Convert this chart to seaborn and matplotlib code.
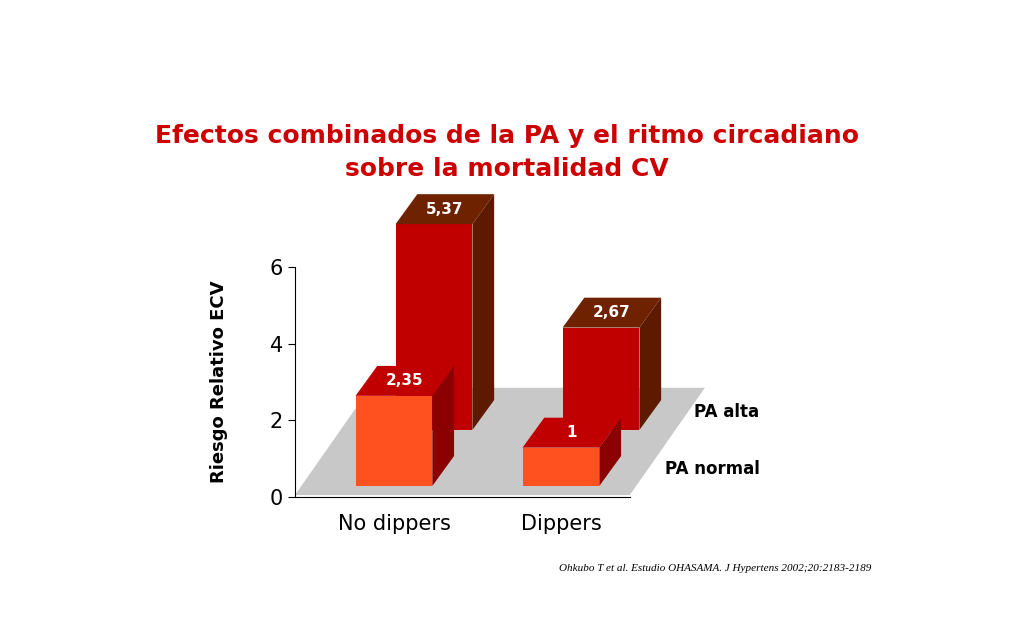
import matplotlib
matplotlib.use("Agg")
import matplotlib.pyplot as plt
import seaborn as sns
import pandas as pd
from matplotlib.patches import Polygon

categories = ["No dippers", "Dippers"]
pa_normal = [2.35, 1.0]
pa_alta = [5.37, 2.67]
labels_normal = ["2,35", "1"]
labels_alta = ["5,37", "2,67"]

# pseudo-3D geometry in data units
FRONT_BASE, BACK_BASE = 0.29, 1.75
BACK_DX = 0.24
DEP_X, DEP_Y = 0.13, 0.78
XL, XR = -0.593, 1.412

fig = plt.figure(figsize=(10.24, 6.4), dpi=100)
ax = fig.add_axes([0.288, 0.2234, 0.327, 0.3594])
ax.set_xlim(XL, XR)
ax.set_ylim(0, 6)

# floor
floor = Polygon([(XL, 0.05), (XR, 0.05), (XR + 0.45, 2.85), (XL + 0.45, 2.85)],
                closed=True, facecolor="#C8C8C8", edgecolor="none", zorder=0, clip_on=False)
ax.add_patch(floor)


def draw_row(values, texts, base, dx, front_c, top_c, side_c, z):
    df = pd.DataFrame({"cat": categories, "val": values})
    n0 = len(ax.patches)
    sns.barplot(data=df, x="cat", y="val", ax=ax, color=front_c, width=0.46,
                saturation=1, zorder=z)
    for p, t in zip(ax.patches[n0:], texts):
        p.set_x(p.get_x() + dx)
        p.set_y(base)
        p.set_clip_on(False)
        p.set_edgecolor("none")
        x0, w, h = p.get_x(), p.get_width(), p.get_height()
        top = base + h
        ax.add_patch(Polygon([(x0, top), (x0 + w, top), (x0 + w + DEP_X, top + DEP_Y),
                              (x0 + DEP_X, top + DEP_Y)], facecolor=top_c, zorder=z, clip_on=False))
        ax.add_patch(Polygon([(x0 + w, base), (x0 + w + DEP_X, base + DEP_Y),
                              (x0 + w + DEP_X, top + DEP_Y), (x0 + w, top)],
                             facecolor=side_c, zorder=z, clip_on=False))
        ax.text(x0 + w / 2 + DEP_X / 2, top + DEP_Y / 2, t, color="white",
                fontsize=11, fontweight="bold", ha="center", va="center", zorder=z + 1)


draw_row(pa_alta, labels_alta, BACK_BASE, BACK_DX, "#C00000", "#6E2200", "#5E1A00", 2)
draw_row(pa_normal, labels_normal, FRONT_BASE, 0, "#FF5020", "#C00000", "#8B0000", 4)

sns.despine(ax=ax)
ax.set_xlim(XL, XR)
ax.set_yticks([0, 2, 4, 6])
ax.tick_params(axis="y", labelsize=15, direction="out", length=5)
ax.tick_params(axis="x", labelsize=15, length=0, pad=12)
ax.set_xlabel("")
ax.set_ylabel("Riesgo Relativo ECV", fontsize=13, fontweight="bold", labelpad=30)
ax.set_facecolor("none")

fig.text(0.495, 0.762, "Efectos combinados de la PA y el ritmo circadiano\nsobre la mortalidad CV",
         ha="center", va="center", color="#CC0000", fontsize=18, fontweight="bold", linespacing=1.45)
fig.text(0.678, 0.348, "PA alta", fontsize=12, fontweight="bold")
fig.text(0.649, 0.259, "PA normal", fontsize=12, fontweight="bold")
fig.text(0.698, 0.112, "Ohkubo T et al. Estudio OHASAMA. J Hypertens 2002;20:2183-2189",
         ha="center", va="center", fontsize=8, fontstyle="italic", family="Liberation Serif")

fig.savefig("out.png", dpi=100)
